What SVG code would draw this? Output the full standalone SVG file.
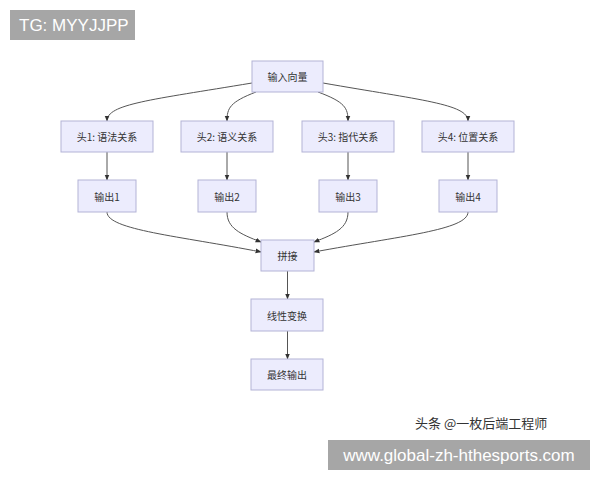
<svg xmlns="http://www.w3.org/2000/svg" width="600" height="480" viewBox="0 0 600 480">
<defs>
<style>
.n rect{fill:#ececfd;stroke:#b3b3d6;stroke-width:1}
.n text{font-family:"Noto Sans CJK SC",sans-serif;font-size:10px;fill:#333;text-anchor:middle;dominant-baseline:central}
#edges path{fill:none;stroke:#555;stroke-width:1;marker-end:url(#a)}
</style>
<marker id="a" viewBox="0 0 10 10" refX="9" refY="5" markerWidth="6" markerHeight="6" orient="auto"><path d="M0,1 L10,5 L0,9z" fill="#333"/></marker>
</defs>
<rect width="600" height="480" fill="#fff"/>
<g id="tg"><rect x="10" y="10" width="125" height="30" fill="#a6a6a6"/><text x="19" y="31" font-family="Liberation Sans,sans-serif" font-size="17" fill="#fff">TG: MYYJJPP</text></g>
<g id="edges">
<path d="M252,83 C150,100 107,104 107,121"/>
<path d="M256,92 C230,102 227,108 227,121"/>
<path d="M318,92 C345,102 348,108 348,121"/>
<path d="M323,83 C420,100 468,104 468,121"/>
<path d="M107,152 V180"/>
<path d="M227,152 V180"/>
<path d="M348,152 V180"/>
<path d="M468,152 V180"/>
<path d="M107,212 C107,230 180,236 261,252"/>
<path d="M227,212 C227,228 240,234 261,242"/>
<path d="M348,212 C348,228 335,234 314,242"/>
<path d="M468,212 C468,230 400,236 314,252"/>
<path d="M287.5,271 V299"/>
<path d="M287.5,331 V359"/>
</g>
<g id="n0" class="n"><rect x="252" y="61" width="71" height="31"/><text x="287.5" y="76.5">输入向量</text></g>
<g id="h1" class="n"><rect x="61" y="121" width="92" height="31"/><text x="107" y="136.5">头1: 语法关系</text></g>
<g id="h2" class="n"><rect x="181" y="121" width="92" height="31"/><text x="227" y="136.5">头2: 语义关系</text></g>
<g id="h3" class="n"><rect x="302" y="121" width="92" height="31"/><text x="348" y="136.5">头3: 指代关系</text></g>
<g id="h4" class="n"><rect x="422" y="121" width="92" height="31"/><text x="468" y="136.5">头4: 位置关系</text></g>
<g id="o1" class="n"><rect x="78" y="180" width="58" height="32"/><text x="107" y="196">输出1</text></g>
<g id="o2" class="n"><rect x="198" y="180" width="58" height="32"/><text x="227" y="196">输出2</text></g>
<g id="o3" class="n"><rect x="319" y="180" width="58" height="32"/><text x="348" y="196">输出3</text></g>
<g id="o4" class="n"><rect x="439" y="180" width="58" height="32"/><text x="468" y="196">输出4</text></g>
<g id="cat" class="n"><rect x="261" y="240" width="53" height="31"/><text x="287.5" y="255.5">拼接</text></g>
<g id="lin" class="n"><rect x="251" y="299" width="72" height="32"/><text x="287" y="315">线性变换</text></g>
<g id="fin" class="n"><rect x="251" y="359" width="72" height="31"/><text x="287" y="374.5">最终输出</text></g>
<g id="wm"><text x="415" y="428" font-family="Noto Sans CJK SC,sans-serif" font-size="13" fill="#333">头条 @一枚后端工程师</text>
<rect x="328" y="440" width="262" height="30" fill="#a6a6a6"/><text x="459" y="461" text-anchor="middle" font-family="Liberation Sans,sans-serif" font-size="17" fill="#fff">www.global-zh-hthesports.com</text></g>
</svg>
